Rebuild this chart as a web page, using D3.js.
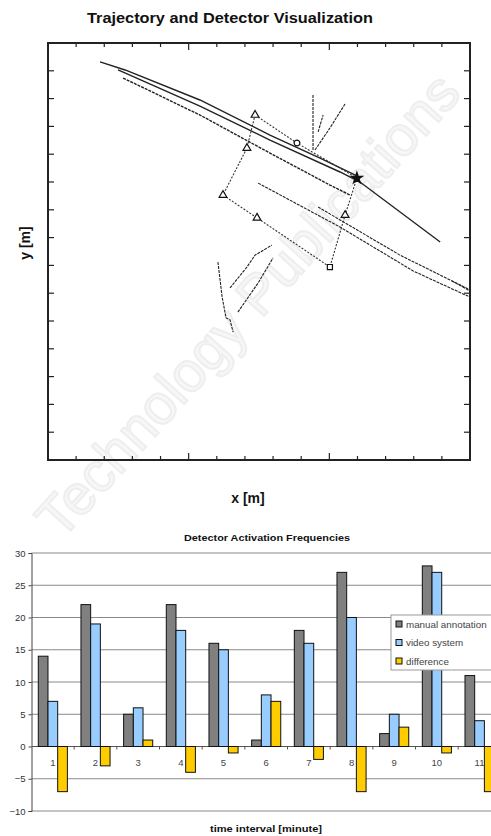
<!DOCTYPE html>
<html>
<head>
<meta charset="utf-8">
<script src="https://cdn.jsdelivr.net/npm/d3@7"></script>
<style>
  body { margin: 0; background: #fff; }
  svg { display: block; font-family: "Liberation Sans", Arial, sans-serif; }
</style>
</head>
<body>
<div id="chart"></div>
<script>
// page size
var w = 491;
var h = 836;

// ---- top plot data (metres) ----
var trackA = [[1.85,14.32],[2.74,14.03],[5.40,12.95],[7.89,11.69],[9.67,10.86],[10.98,10.22]];
var trackB = [[2.49,14.03],[5.40,12.73],[7.89,11.51],[10.38,10.36],[11.09,10.0],[13.94,7.84]];
var trackC = [[2.67,13.74],[5.40,12.41],[7.89,11.04],[10.02,9.89],[10.74,9.53]];
var trackD = [[7.47,9.96],[10.38,8.38],[12.98,6.80],[15.0,5.86]];
var trackE = [[9.60,9.10],[12.51,7.37],[15.0,6.12]];
var trackF = [[14.36,6.44],[15.0,6.08]];
var trackG = [[9.42,13.13],[9.42,11.15]];
var trackH = [[9.49,11.15],[10.02,11.94],[10.56,12.81]];
var trackI = [[9.60,11.80],[9.78,12.41]];
var trackJ = [[6.04,7.12],[6.19,5.86],[6.33,5.11],[6.47,5.04],[6.58,4.60]];
var trackK = [[6.47,6.19],[7.07,6.94],[7.36,7.37],[7.96,7.73]];
var trackL = [[6.75,5.32],[7.47,6.37],[8.00,7.27]];
var tracks = [trackA, trackB, trackC, trackD, trackE, trackF, trackG, trackH, trackI, trackJ, trackK, trackL];

// detector outline and marker type at each corner
var detector = [[7.36,12.41],[8.85,11.40],[10.98,10.14],[10.56,8.81],[10.02,6.94],[7.43,8.71],[6.22,9.53],[7.07,11.22]];
var detectorMarks = ["triangle","circle","star","triangle","square","triangle","triangle","triangle"];

// ---- bottom chart data ----
var intervals = ["1","2","3","4","5","6","7","8","9","10","11"];
var manual = [14, 22, 5, 22, 16, 1, 18, 27, 2, 28, 11];
var video = [7, 19, 6, 18, 15, 8, 16, 20, 5, 27, 4];
var difference = [-7, -3, 1, -4, -1, 7, -2, -7, 3, -1, -7];
var seriesNames = ["manual annotation", "video system", "difference"];
var seriesColors = ["#808080", "#99ccff", "#ffcc00"];
var yTicks = [-10, -5, 0, 5, 10, 15, 20, 25, 30];

var svg = d3.select("#chart").append("svg")
  .attr("width", w)
  .attr("height", h);

// faint watermark behind everything
svg.append("text")
  .attr("transform", "translate(262,318) rotate(-48)")
  .attr("text-anchor", "middle")
  .attr("font-size", 56)
  .attr("fill", "#f7f7f7")
  .attr("stroke", "#eeeeee")
  .attr("stroke-width", 2)
  .text("Technology Publications");

// ================= top: trajectories =================
var tl = 48, tr = 470, tt = 43, tb = 460;

var xScale = d3.scaleLinear().domain([0, 15]).range([tl, tr]);
var yScale = d3.scaleLinear().domain([0, 15]).range([tb, tt]);

svg.append("text")
  .attr("x", 230).attr("y", 23)
  .attr("text-anchor", "middle")
  .attr("font-size", 14.5).attr("font-weight", "bold")
  .attr("textLength", 286).attr("lengthAdjust", "spacingAndGlyphs")
  .attr("fill", "#111")
  .text("Trajectory and Detector Visualization");

var line = d3.line()
  .x(function(d) { return xScale(d[0]); })
  .y(function(d) { return yScale(d[1]); });

svg.append("g").selectAll("path")
  .data(tracks)
  .enter()
  .append("path")
  .attr("d", line)
  .attr("fill", "none")
  .attr("stroke", "#222")
  .attr("stroke-width", function(d, i) { return i < 3 ? 1.4 : 1.1; })
  .attr("stroke-dasharray", function(d, i) { return i < 2 ? null : "3,1"; });

// detector outline (closed)
svg.append("path")
  .attr("d", line(detector.concat([detector[0]])))
  .attr("fill", "none")
  .attr("stroke", "#333")
  .attr("stroke-width", 1.1)
  .attr("stroke-dasharray", "2,1.5");

var symbolFor = {
  triangle: d3.symbolTriangle,
  circle: d3.symbolCircle,
  square: d3.symbolSquare,
  star: d3.symbolStar
};
svg.append("g").selectAll("path")
  .data(detector)
  .enter()
  .append("path")
  .attr("transform", function(d) { return "translate(" + xScale(d[0]) + "," + yScale(d[1]) + ")"; })
  .attr("d", function(d, i) {
    var t = detectorMarks[i];
    return d3.symbol().type(symbolFor[t]).size(t === "star" ? 38 : 26)();
  })
  .attr("fill", function(d, i) { return detectorMarks[i] === "star" ? "#111" : "#fff"; })
  .attr("stroke", "#111")
  .attr("stroke-width", 1.2);

// inward ticks on all four sides, no labels
var xTickVals = d3.range(1, 15);
var yTickVals = d3.range(1, 15);
function xSize(d) { return d % 5 === 0 ? 7 : 4; }

var tickG = svg.append("g").attr("stroke", "#222").attr("stroke-width", 1.2);
tickG.selectAll(".xb").data(xTickVals).enter().append("line")
  .attr("x1", function(d) { return xScale(d); }).attr("x2", function(d) { return xScale(d); })
  .attr("y1", tb).attr("y2", function(d) { return tb - xSize(d); });
tickG.selectAll(".xt").data(xTickVals).enter().append("line")
  .attr("x1", function(d) { return xScale(d); }).attr("x2", function(d) { return xScale(d); })
  .attr("y1", tt).attr("y2", function(d) { return tt + xSize(d); });
tickG.selectAll(".yl").data(yTickVals).enter().append("line")
  .attr("y1", function(d) { return yScale(d); }).attr("y2", function(d) { return yScale(d); })
  .attr("x1", tl).attr("x2", tl + 6);
tickG.selectAll(".yr").data(yTickVals).enter().append("line")
  .attr("y1", function(d) { return yScale(d); }).attr("y2", function(d) { return yScale(d); })
  .attr("x1", tr).attr("x2", tr - 6);

svg.append("rect")
  .attr("x", tl).attr("y", tt)
  .attr("width", tr - tl).attr("height", tb - tt)
  .attr("fill", "none")
  .attr("stroke", "#222")
  .attr("stroke-width", 2);

svg.append("text")
  .attr("x", 248).attr("y", 503)
  .attr("text-anchor", "middle")
  .attr("font-size", 14).attr("font-weight", "bold")
  .attr("fill", "#111")
  .text("x [m]");

svg.append("text")
  .attr("transform", "translate(30,243) rotate(-90)")
  .attr("text-anchor", "middle")
  .attr("font-size", 14).attr("font-weight", "bold")
  .attr("fill", "#111")
  .text("y [m]");

// ================= bottom: bar chart =================
var bl = 31.5, bStep = 42.67;
var x0 = d3.scaleBand()
  .domain(intervals)
  .range([bl, bl + intervals.length * bStep]);
var x1 = d3.scaleBand()
  .domain(seriesNames)
  .range([0, x0.bandwidth()])
  .paddingOuter(0.7);
var yBar = d3.scaleLinear().domain([-10, 30]).range([811, 553]);

svg.append("text")
  .attr("x", 267).attr("y", 541)
  .attr("text-anchor", "middle")
  .attr("font-size", 9.5).attr("font-weight", "bold")
  .attr("textLength", 166).attr("lengthAdjust", "spacingAndGlyphs")
  .attr("fill", "#111")
  .text("Detector Activation Frequencies");

// gridlines
svg.append("g").selectAll("line")
  .data(yTicks)
  .enter()
  .append("line")
  .attr("x1", bl).attr("x2", w)
  .attr("y1", function(d) { return yBar(d); })
  .attr("y2", function(d) { return yBar(d); })
  .attr("stroke", function(d) { return d === 0 ? "#555" : "#8a8a8a"; })
  .attr("stroke-width", 1);

// left axis
var yAxis = d3.axisLeft(yBar).tickValues(yTicks).tickSize(3).tickPadding(3);
var yAxisG = svg.append("g")
  .attr("transform", "translate(" + bl + ",0)")
  .call(yAxis);
yAxisG.select(".domain").attr("stroke", "#444");
yAxisG.selectAll(".tick line").attr("stroke", "#444");
yAxisG.selectAll("text")
  .attr("font-size", 9.5)
  .attr("font-family", "Liberation Sans, Arial, sans-serif")
  .attr("fill", "#333");

// bars
var rows = intervals.map(function(c, i) {
  return { cat: c, vals: [manual[i], video[i], difference[i]] };
});
var groups = svg.append("g").selectAll("g")
  .data(rows)
  .enter()
  .append("g")
  .attr("transform", function(d) { return "translate(" + x0(d.cat) + ",0)"; });

groups.selectAll("rect")
  .data(function(d) { return d.vals.map(function(v, k) { return { name: seriesNames[k], v: v, k: k }; }); })
  .enter()
  .append("rect")
  .attr("x", function(d) { return x1(d.name); })
  .attr("width", x1.bandwidth())
  .attr("y", function(d) { return yBar(Math.max(0, d.v)); })
  .attr("height", function(d) { return Math.abs(yBar(d.v) - yBar(0)); })
  .attr("fill", function(d) { return seriesColors[d.k]; })
  .attr("stroke", "#111")
  .attr("stroke-width", 1);

// category ticks on zero line and labels
svg.append("g").selectAll("line")
  .data(intervals)
  .enter()
  .append("line")
  .attr("x1", function(d) { return x0(d) + x0.bandwidth(); })
  .attr("x2", function(d) { return x0(d) + x0.bandwidth(); })
  .attr("y1", yBar(0)).attr("y2", yBar(0) + 3)
  .attr("stroke", "#555");

svg.append("g").selectAll("text")
  .data(intervals)
  .enter()
  .append("text")
  .attr("x", function(d) { return x0(d) + x0.bandwidth() / 2; })
  .attr("y", yBar(0) + 19)
  .attr("text-anchor", "middle")
  .attr("font-size", 9.5)
  .attr("fill", "#444")
  .text(function(d) { return d; });

svg.append("text")
  .attr("x", 266).attr("y", 832)
  .attr("text-anchor", "middle")
  .attr("font-size", 9.5).attr("font-weight", "bold")
  .attr("textLength", 112).attr("lengthAdjust", "spacingAndGlyphs")
  .attr("fill", "#111")
  .text("time interval [minute]");

// legend
var legend = svg.append("g").attr("transform", "translate(391,615)");
legend.append("rect")
  .attr("width", 110).attr("height", 55)
  .attr("fill", "#fff")
  .attr("stroke", "#999");
var items = legend.selectAll("g")
  .data(seriesNames)
  .enter()
  .append("g")
  .attr("transform", function(d, i) { return "translate(5," + (9 + i * 18.5) + ")"; });
items.append("rect")
  .attr("x", 0).attr("y", -3)
  .attr("width", 6).attr("height", 6)
  .attr("fill", function(d, i) { return seriesColors[i]; })
  .attr("stroke", "#111");
items.append("text")
  .attr("x", 10).attr("y", 3.5)
  .attr("font-size", 9.8)
  .attr("fill", "#444")
  .text(function(d) { return d; });
</script>
</body>
</html>
